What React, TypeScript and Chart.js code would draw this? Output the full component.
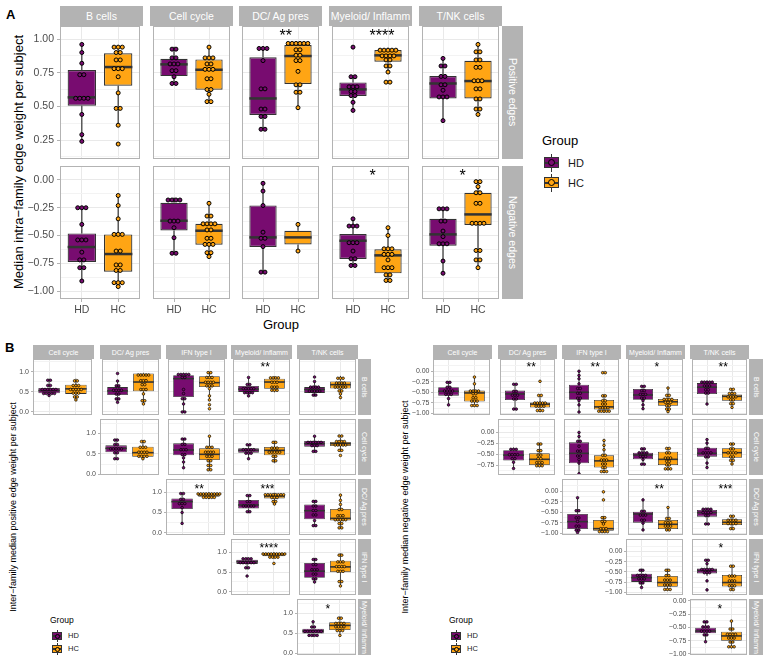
import React, { useEffect, useRef } from 'react';
import { Chart, registerables } from 'chart.js';
Chart.register(...registerables);

const FONT = '"Liberation Sans", Arial, Helvetica, sans-serif';
const HD_COLOR = '#780c70';
const HC_COLOR = '#ffa514';
const LINE = '#333333';
const STRIP = '#b3b3b3';
const TICK_TXT = '#4d4d4d';
const MINUS = '\u2212';

// ---------------- Section A: intra-family ----------------
const familiesA = ['B cells', 'Cell cycle', 'DC/ Ag pres', 'Myeloid/ Inflamm', 'T/NK cells'];
const edgeRowsA = ['Positive edges', 'Negative edges'];
const groupLabels = ['HD', 'HC'];
const ticksA = [[0.25, 0.5, 0.75, 1.0], [-1, -0.75, -0.5, -0.25, 0]];
const yRangeA = [[0.109, 1.097], [-1.072, 0.126]];
const starsA = [['', '', '**', '****', ''], ['', '', '', '*', '*']];
const starYA = [1.052, 0.075];

// stats = [lower whisker, q1, median, q3, upper whisker]
const posHDStats = [
  [0.24, 0.505, 0.567, 0.77, 0.96],
  [0.67, 0.725, 0.812, 0.854, 0.943],
  [0.332, 0.436, 0.559, 0.864, 0.943],
  [0.473, 0.577, 0.626, 0.678, 0.72],
  [0.394, 0.559, 0.67, 0.725, 0.856],
];
const posHCStats = [
  [0.36, 0.653, 0.792, 0.894, 0.95],
  [0.535, 0.624, 0.772, 0.849, 0.943],
  [0.49, 0.666, 0.874, 0.955, 0.98],
  [0.755, 0.832, 0.879, 0.918, 0.935],
  [0.436, 0.559, 0.688, 0.839, 0.96],
];
const posHDPoints = [
  [0.96, 0.90, 0.82, 0.75, 0.72, 0.57, 0.57, 0.55, 0.55, 0.44, 0.29, 0.24],
  [0.94, 0.91, 0.87, 0.85, 0.83, 0.81, 0.80, 0.78, 0.75, 0.72, 0.67, 0.67],
  [0.94, 0.94, 0.92, 0.84, 0.63, 0.63, 0.49, 0.47, 0.43, 0.42, 0.33, 0.33],
  [0.94, 0.72, 0.72, 0.66, 0.66, 0.63, 0.62, 0.60, 0.58, 0.58, 0.53, 0.47],
  [0.856, 0.81, 0.79, 0.725, 0.72, 0.66, 0.66, 0.62, 0.58, 0.57, 0.56, 0.394],
];
const posHCPoints = [
  [0.95, 0.94, 0.93, 0.91, 0.89, 0.86, 0.83, 0.79, 0.79, 0.77, 0.72, 0.60, 0.485, 0.485, 0.36, 0.22],
  [0.94, 0.87, 0.87, 0.85, 0.83, 0.80, 0.78, 0.77, 0.77, 0.72, 0.69, 0.63, 0.62, 0.59, 0.535, 0.535],
  [0.98, 0.98, 0.98, 0.955, 0.955, 0.955, 0.93, 0.91, 0.89, 0.87, 0.85, 0.83, 0.76, 0.66, 0.66, 0.62, 0.59, 0.49],
  [0.935, 0.935, 0.92, 0.91, 0.90, 0.89, 0.88, 0.87, 0.86, 0.85, 0.84, 0.81, 0.79, 0.755, 0.68, 0.68],
  [0.96, 0.91, 0.90, 0.85, 0.84, 0.80, 0.78, 0.69, 0.69, 0.69, 0.63, 0.63, 0.56, 0.55, 0.49, 0.47, 0.44],
];
const negHDStats = [
  [-0.91, -0.739, -0.604, -0.481, -0.25],
  [-0.661, -0.454, -0.367, -0.205, -0.157],
  [-0.832, -0.604, -0.517, -0.229, -0.025],
  [-0.769, -0.712, -0.547, -0.487, -0.349],
  [-0.841, -0.592, -0.49, -0.349, -0.247],
];
const negHCStats = [
  [-0.961, -0.826, -0.667, -0.49, -0.139],
  [-0.69, -0.583, -0.457, -0.394, -0.21],
  [-0.637, -0.58, -0.517, -0.457, -0.394],
  [-0.922, -0.841, -0.679, -0.625, -0.427],
  [-0.793, -0.406, -0.31, -0.115, 0.0],
];
const negHDPoints = [
  [-0.25, -0.25, -0.25, -0.40, -0.52, -0.52, -0.56, -0.65, -0.72, -0.72, -0.79, -0.79, -0.91],
  [-0.16, -0.19, -0.20, -0.20, -0.37, -0.37, -0.37, -0.43, -0.52, -0.66, -0.66],
  [-0.03, -0.10, -0.23, -0.47, -0.52, -0.53, -0.60, -0.83, -0.83],
  [-0.35, -0.40, -0.40, -0.43, -0.55, -0.55, -0.58, -0.64, -0.71, -0.71, -0.77, -0.77],
  [-0.25, -0.26, -0.27, -0.36, -0.38, -0.46, -0.51, -0.56, -0.58, -0.59, -0.73, -0.84],
];
const negHCPoints = [
  [-0.14, -0.23, -0.35, -0.49, -0.49, -0.49, -0.62, -0.66, -0.75, -0.78, -0.80, -0.83, -0.91, -0.91, -0.94, -0.96],
  [-0.21, -0.31, -0.34, -0.38, -0.39, -0.40, -0.41, -0.44, -0.46, -0.51, -0.54, -0.57, -0.59, -0.59, -0.64, -0.67, -0.69],
  [-0.40, -0.64],
  [-0.43, -0.50, -0.60, -0.63, -0.64, -0.65, -0.67, -0.69, -0.72, -0.77, -0.79, -0.81, -0.84, -0.87, -0.89, -0.92],
  [0.0, -0.03, -0.06, -0.11, -0.12, -0.20, -0.22, -0.38, -0.38, -0.38, -0.40, -0.62, -0.65, -0.70, -0.74, -0.79],
];

// ---------------- Section B: inter-family ----------------
const colFamiliesB = ['Cell cycle', 'DC/ Ag pres', 'IFN type I', 'Myeloid/ Inflamm', 'T/NK cells'];
const rowFamiliesB = ['B cells', 'Cell cycle', 'DC/ Ag pres', 'IFN type I', 'Myeloid/ Inflamm'];
const ticksPosB = [0, 0.5, 1.0];
const ticksNegB = [-1, -0.75, -0.5, -0.25, 0];
const yRangePosB = [[-0.076, 1.32], [-0.017, 1.35], [-0.057, 1.33], [-0.08, 1.34], [-0.05, 1.35]];
const yRangeNegB = [[-1.04, 0.29], [-0.968, 0.293], [-1.04, 0.284], [-1.065, 0.305], [-1.02, 0.037]];
const starsPosB = [['', '', '', '**', ''], ['', '', '', ''], ['**', '***', ''], ['****', ''], ['*']];
const starYPosB = [1.19, 1.16, 1.16, 1.175, 1.16];
const starsNegB = [['', '**', '**', '*', '**'], ['', '', '', ''], ['', '**', '***'], ['', '*'], ['*']];
const starYNegB = [0.162, 0.15, 0.125, 0.144, -0.105];

const interPosHDStats = [
  [[0.41, 0.466, 0.534, 0.60, 0.83], [0.24, 0.42, 0.525, 0.62, 0.79], [0.0, 0.373, 0.83, 0.915, 0.975], [0.40, 0.50, 0.57, 0.65, 0.86], [0.38, 0.475, 0.56, 0.62, 0.76]],
  [[0.35, 0.537, 0.634, 0.707, 0.88], [0.16, 0.463, 0.593, 0.756, 0.89], [0.38, 0.528, 0.585, 0.634, 0.74], [0.52, 0.675, 0.748, 0.813, 0.93]],
  [[0.23, 0.587, 0.77, 0.85, 0.99], [0.48, 0.60, 0.686, 0.81, 0.94], [0.15, 0.33, 0.545, 0.70, 0.81]],
  [[0.567, 0.708, 0.767, 0.817, 0.875], [0.217, 0.358, 0.525, 0.733, 0.86]],
  [[0.40, 0.49, 0.55, 0.607, 0.78]],
];
const interPosHCStats = [
  [[0.28, 0.45, 0.576, 0.678, 0.83], [0.18, 0.517, 0.746, 0.96, 0.975], [0.30, 0.62, 0.73, 0.89, 1.0], [0.49, 0.576, 0.746, 0.83, 0.89], [0.32, 0.585, 0.68, 0.76, 0.90]],
  [[0.37, 0.43, 0.528, 0.675, 0.84], [0.10, 0.35, 0.488, 0.634, 0.93], [0.27, 0.463, 0.585, 0.667, 0.82], [0.55, 0.69, 0.748, 0.789, 0.90]],
  [[0.83, 0.89, 0.94, 0.975, 1.0], [0.71, 0.85, 0.91, 0.95, 0.99], [0.11, 0.30, 0.355, 0.587, 0.93]],
  [[0.83, 0.90, 0.94, 0.983, 1.0], [0.15, 0.50, 0.633, 0.79, 0.98]],
  [[0.43, 0.574, 0.69, 0.77, 0.92]],
];
const interPosHDPoints = [
  [
    [0.83, 0.75, 0.70, 0.62, 0.60, 0.57, 0.55, 0.54, 0.53, 0.52, 0.50, 0.48, 0.46, 0.44, 0.42, 0.41],
    [0.96, 0.77, 0.68, 0.62, 0.58, 0.55, 0.52, 0.50, 0.47, 0.42, 0.35, 0.30, 0.24],
    [0.97, 0.95, 0.93, 0.92, 0.90, 0.88, 0.84, 0.56, 0.46, 0.36, 0.30, 0.20, 0.0, 0.0],
    [0.86, 0.72, 0.65, 0.62, 0.58, 0.56, 0.55, 0.54, 0.52, 0.50, 0.47, 0.44, 0.40],
    [0.87, 0.76, 0.66, 0.62, 0.60, 0.58, 0.56, 0.54, 0.52, 0.50, 0.48, 0.44, 0.40],
  ],
  [
    [0.85, 0.82, 0.75, 0.70, 0.66, 0.64, 0.62, 0.60, 0.58, 0.55, 0.50, 0.40, 0.36],
    [0.89, 0.83, 0.76, 0.70, 0.64, 0.60, 0.56, 0.50, 0.46, 0.40, 0.30, 0.16],
    [0.74, 0.70, 0.64, 0.62, 0.60, 0.58, 0.56, 0.55, 0.52, 0.48, 0.38],
    [0.93, 0.82, 0.80, 0.78, 0.76, 0.75, 0.74, 0.72, 0.70, 0.68, 0.60, 0.52],
  ],
  [
    [0.99, 0.95, 0.85, 0.80, 0.76, 0.72, 0.68, 0.62, 0.50, 0.23],
    [0.94, 0.90, 0.80, 0.74, 0.70, 0.68, 0.66, 0.64, 0.62, 0.56, 0.48],
    [0.79, 0.76, 0.70, 0.62, 0.58, 0.52, 0.48, 0.40, 0.30, 0.20, 0.15],
  ],
  [
    [0.875, 0.85, 0.83, 0.80, 0.78, 0.76, 0.75, 0.74, 0.72, 0.70, 0.65, 0.57, 0.40],
    [0.86, 0.78, 0.72, 0.66, 0.60, 0.55, 0.52, 0.48, 0.42, 0.36, 0.30, 0.25],
  ],
  [
    [0.78, 0.68, 0.62, 0.58, 0.56, 0.55, 0.54, 0.53, 0.52, 0.50, 0.48, 0.45, 0.42, 0.40],
  ],
];
const interPosHCPoints = [
  [
    [0.80, 0.75, 0.70, 0.66, 0.62, 0.60, 0.58, 0.56, 0.55, 0.52, 0.50, 0.47, 0.44, 0.40, 0.35, 0.30],
    [0.96, 0.95, 0.94, 0.92, 0.88, 0.82, 0.76, 0.74, 0.70, 0.66, 0.60, 0.55, 0.52, 0.45, 0.30, 0.26, 0.20],
    [1.0, 0.96, 0.90, 0.86, 0.82, 0.78, 0.75, 0.72, 0.70, 0.68, 0.65, 0.62, 0.58, 0.40, 0.30, 0.18, 0.08],
    [0.88, 0.86, 0.84, 0.82, 0.78, 0.74, 0.70, 0.66, 0.62, 0.58, 0.56, 0.54, 0.52],
    [0.88, 0.84, 0.80, 0.76, 0.72, 0.70, 0.68, 0.66, 0.64, 0.62, 0.60, 0.58, 0.55, 0.50, 0.45, 0.36],
  ],
  [
    [0.84, 0.76, 0.70, 0.66, 0.62, 0.58, 0.55, 0.52, 0.50, 0.48, 0.45, 0.42, 0.40, 0.38],
    [0.93, 0.70, 0.64, 0.62, 0.58, 0.55, 0.52, 0.50, 0.48, 0.44, 0.40, 0.36, 0.30, 0.25, 0.18, 0.12, 0.10],
    [0.82, 0.74, 0.68, 0.64, 0.60, 0.58, 0.56, 0.54, 0.52, 0.50, 0.46, 0.42, 0.36, 0.30],
    [0.97, 0.90, 0.84, 0.80, 0.78, 0.76, 0.75, 0.74, 0.72, 0.70, 0.68, 0.62, 0.55, 0.46],
  ],
  [
    [1.0, 0.98, 0.97, 0.96, 0.95, 0.94, 0.94, 0.93, 0.92, 0.91, 0.90, 0.88, 0.86, 0.84],
    [0.98, 0.96, 0.95, 0.94, 0.93, 0.92, 0.91, 0.90, 0.89, 0.88, 0.85, 0.80, 0.74, 0.71],
    [0.93, 0.80, 0.70, 0.60, 0.55, 0.46, 0.42, 0.38, 0.36, 0.35, 0.33, 0.30, 0.28, 0.25, 0.20, 0.14, 0.10],
  ],
  [
    [1.0, 0.99, 0.98, 0.97, 0.96, 0.95, 0.94, 0.93, 0.92, 0.91, 0.90, 0.88, 0.85, 0.72],
    [0.96, 0.90, 0.80, 0.75, 0.72, 0.68, 0.64, 0.62, 0.60, 0.56, 0.52, 0.48, 0.30, 0.22, 0.15],
  ],
  [
    [0.90, 0.84, 0.78, 0.74, 0.72, 0.70, 0.69, 0.68, 0.66, 0.62, 0.60, 0.57, 0.52, 0.44],
  ],
];

const interNegHDStats = [
  [[-0.80, -0.58, -0.476, -0.38, -0.234], [-0.92, -0.685, -0.54, -0.46, -0.30], [-0.97, -0.677, -0.50, -0.32, 0.0], [-0.887, -0.677, -0.565, -0.42, -0.34], [-0.78, -0.54, -0.38, -0.282, -0.24]],
  [[-0.82, -0.64, -0.52, -0.41, -0.35], [-0.94, -0.705, -0.48, -0.233, 0.0], [-0.73, -0.615, -0.518, -0.465, -0.35], [-0.80, -0.555, -0.48, -0.353, -0.165]],
  [[-0.984, -0.898, -0.724, -0.543, -0.157], [-0.92, -0.748, -0.543, -0.488, -0.21], [-0.803, -0.606, -0.512, -0.449, -0.394]],
  [[-0.88, -0.744, -0.64, -0.544, -0.416], [-0.60, -0.536, -0.464, -0.416, -0.176]],
  [[-0.77, -0.61, -0.568, -0.506, -0.37]],
];
const interNegHCStats = [
  [[-0.847, -0.718, -0.516, -0.46, -0.137], [-0.968, -0.863, -0.782, -0.742, -0.597], [-0.984, -0.91, -0.847, -0.685, -0.54], [-0.96, -0.823, -0.726, -0.66, -0.395], [-0.863, -0.70, -0.597, -0.556, -0.40]],
  [[-0.79, -0.743, -0.615, -0.48, -0.24], [-0.915, -0.80, -0.65, -0.525, -0.19], [-0.86, -0.743, -0.615, -0.443, -0.34], [-0.73, -0.578, -0.465, -0.367, -0.24]],
  [[-0.984, -0.937, -0.89, -0.685, -0.59], [-0.937, -0.898, -0.787, -0.685, -0.386], [-0.92, -0.803, -0.74, -0.67, -0.567]],
  [[-0.96, -0.864, -0.76, -0.60, -0.416], [-0.945, -0.856, -0.76, -0.577, -0.32]],
  [[-0.895, -0.753, -0.66, -0.58, -0.38]],
];
const interNegHDPoints = [
  [
    [-0.23, -0.30, -0.36, -0.40, -0.44, -0.46, -0.48, -0.50, -0.52, -0.55, -0.58, -0.65, -0.80],
    [-0.30, -0.32, -0.46, -0.50, -0.54, -0.56, -0.60, -0.64, -0.68, -0.88, -0.92],
    [0.0, -0.10, -0.18, -0.30, -0.38, -0.44, -0.50, -0.55, -0.62, -0.66, -0.70, -0.80, -0.97],
    [-0.34, -0.38, -0.44, -0.48, -0.52, -0.56, -0.58, -0.62, -0.66, -0.70, -0.80, -0.89],
    [-0.24, -0.25, -0.26, -0.27, -0.28, -0.32, -0.36, -0.38, -0.42, -0.46, -0.50, -0.54, -0.78],
  ],
  [
    [-0.36, -0.38, -0.42, -0.48, -0.50, -0.52, -0.54, -0.58, -0.62, -0.68, -0.82],
    [-0.01, -0.10, -0.18, -0.24, -0.32, -0.40, -0.46, -0.52, -0.56, -0.62, -0.70, -0.94],
    [-0.36, -0.40, -0.44, -0.46, -0.48, -0.50, -0.52, -0.54, -0.58, -0.62, -0.72, -0.73],
    [-0.17, -0.25, -0.34, -0.40, -0.44, -0.46, -0.48, -0.50, -0.54, -0.58, -0.70, -0.80],
  ],
  [
    [-0.16, -0.45, -0.48, -0.62, -0.65, -0.72, -0.80, -0.86, -0.90, -0.95, -0.98],
    [-0.21, -0.46, -0.50, -0.54, -0.56, -0.60, -0.66, -0.72, -0.76, -0.92],
    [-0.40, -0.42, -0.44, -0.46, -0.48, -0.50, -0.52, -0.54, -0.56, -0.60, -0.76, -0.80],
  ],
  [
    [-0.42, -0.50, -0.55, -0.58, -0.60, -0.62, -0.64, -0.66, -0.70, -0.74, -0.80, -0.88],
    [-0.18, -0.25, -0.30, -0.40, -0.42, -0.44, -0.46, -0.48, -0.50, -0.52, -0.54, -0.72, -0.94],
  ],
  [
    [-0.37, -0.42, -0.46, -0.50, -0.52, -0.54, -0.56, -0.58, -0.60, -0.62, -0.66, -0.77],
  ],
];
const interNegHCPoints = [
  [
    [-0.14, -0.30, -0.44, -0.46, -0.48, -0.50, -0.52, -0.55, -0.60, -0.66, -0.68, -0.70, -0.74, -0.78, -0.82, -0.85],
    [-0.24, -0.55, -0.60, -0.72, -0.75, -0.77, -0.78, -0.79, -0.80, -0.82, -0.84, -0.86, -0.90, -0.94, -0.97],
    [0.0, -0.07, -0.55, -0.62, -0.68, -0.72, -0.76, -0.80, -0.84, -0.86, -0.88, -0.90, -0.92, -0.94, -0.96, -0.98, -0.98],
    [-0.40, -0.55, -0.60, -0.64, -0.66, -0.68, -0.70, -0.72, -0.74, -0.76, -0.80, -0.84, -0.88, -0.92, -0.96],
    [-0.40, -0.46, -0.50, -0.54, -0.56, -0.58, -0.60, -0.62, -0.64, -0.66, -0.70, -0.74, -0.80, -0.86],
  ],
  [
    [-0.24, -0.30, -0.40, -0.44, -0.50, -0.54, -0.58, -0.62, -0.66, -0.70, -0.72, -0.74, -0.76, -0.78],
    [-0.19, -0.30, -0.40, -0.50, -0.55, -0.60, -0.64, -0.66, -0.70, -0.74, -0.78, -0.82, -0.86, -0.90, -0.92],
    [-0.34, -0.40, -0.44, -0.50, -0.55, -0.60, -0.62, -0.64, -0.68, -0.72, -0.76, -0.80, -0.84, -0.86],
    [-0.24, -0.30, -0.36, -0.40, -0.44, -0.46, -0.48, -0.50, -0.54, -0.58, -0.62, -0.66, -0.72],
  ],
  [
    [-0.02, -0.21, -0.60, -0.66, -0.70, -0.74, -0.78, -0.86, -0.90, -0.92, -0.94, -0.96, -0.98, -0.98],
    [-0.39, -0.62, -0.68, -0.72, -0.76, -0.78, -0.80, -0.82, -0.86, -0.90, -0.94],
    [-0.57, -0.62, -0.66, -0.68, -0.70, -0.72, -0.74, -0.76, -0.78, -0.80, -0.86, -0.92],
  ],
  [
    [-0.42, -0.50, -0.56, -0.62, -0.66, -0.70, -0.74, -0.78, -0.82, -0.86, -0.90, -0.94, -0.96],
    [-0.32, -0.40, -0.56, -0.60, -0.64, -0.68, -0.72, -0.76, -0.80, -0.84, -0.88, -0.92, -0.945],
  ],
  [
    [-0.38, -0.50, -0.56, -0.60, -0.62, -0.64, -0.66, -0.68, -0.70, -0.72, -0.75, -0.80, -0.84, -0.87, -0.89],
  ],
];

// ---------------- helpers ----------------
const fmt = (v: number, d: number) => (v < 0 ? MINUS : '') + Math.abs(v).toFixed(d);

function dotplot(vals: number[], cat: number, pxX: number, pxY: number, d: number) {
  const s = [...vals].sort((a, b) => b - a);
  const bw = d / pxY;
  const out: { x: number; y: number }[] = [];
  let i = 0;
  while (i < s.length) {
    let j = i;
    while (j + 1 < s.length && s[i] - s[j + 1] < bw * 0.999) j++;
    const n = j - i + 1;
    const yc = (s[i] + s[j]) / 2;
    for (let k = 0; k < n; k++) {
      out.push({ x: cat + ((k - (n - 1) / 2) * d * 0.85) / pxX, y: yc });
    }
    i = j + 1;
  }
  return out;
}

function minorsFor(majors: number[], lo: number, hi: number) {
  const step = majors[1] - majors[0];
  const out: number[] = [];
  for (let v = majors[0] - step / 2; v <= majors[majors.length - 1] + step / 2 + 1e-9; v += step) {
    if (v > lo && v < hi) out.push(Math.round(v * 10000) / 10000);
  }
  return out;
}

interface PanelProps {
  x: number; y: number; w: number; h: number;
  lm: number; showY: boolean; showX: boolean;
  yMin: number; yMax: number; majors: number[]; dec: number;
  tickSize: number; tickLen: number; tickPad: number;
  hdStats: number[]; hcStats: number[]; hdPts: number[]; hcPts: number[];
  star: string; starY: number; starSize: number;
  dotR: number; dotBorder: number; medianW: number; whiskW: number; boxBorder: number;
  barPct: number;
}

const TM = 10;

function Panel(p: PanelProps) {
  const ref = useRef<HTMLCanvasElement>(null);
  const BM = p.showX ? 20 : 10;
  const cw = p.w + p.lm;
  const ch = TM + p.h + BM;
  useEffect(() => {
    const canvas = ref.current as HTMLCanvasElement;
    const pxX = p.w / 2.2;
    const pxY = p.h / (p.yMax - p.yMin);
    const d = p.dotR * 2 + p.dotBorder;
    const hd = dotplot(p.hdPts, 1, pxX, pxY, d);
    const hc = dotplot(p.hcPts, 2, pxX, pxY, d);
    const pts = [...hd, ...hc];
    const colors = [...hd.map(() => HD_COLOR), ...hc.map(() => HC_COLOR)];
    const majors = p.majors.filter((v) => v >= p.yMin - 1e-9 && v <= p.yMax + 1e-9);
    const minors = minorsFor(p.majors, p.yMin, p.yMax);
    const isMajor = (v: number) => majors.some((m) => Math.abs(m - v) < 1e-9);
    const stats = [p.hdStats, p.hcStats];

    const boxPlugin = {
      id: 'boxdraw',
      beforeDatasetDraw(chart: any, args: any) {
        if (args.index !== 1) return;
        const meta = chart.getDatasetMeta(1);
        const ys = chart.scales.y;
        const ctx = chart.ctx;
        ctx.save();
        ctx.strokeStyle = LINE;
        ctx.lineWidth = p.whiskW;
        meta.data.forEach((el: any, i: number) => {
          const s = stats[i];
          ctx.beginPath();
          ctx.moveTo(el.x, ys.getPixelForValue(s[0]));
          ctx.lineTo(el.x, ys.getPixelForValue(s[1]));
          ctx.moveTo(el.x, ys.getPixelForValue(s[3]));
          ctx.lineTo(el.x, ys.getPixelForValue(s[4]));
          ctx.stroke();
        });
        ctx.restore();
      },
      afterDatasetDraw(chart: any, args: any) {
        if (args.index !== 1) return;
        const meta = chart.getDatasetMeta(1);
        const ys = chart.scales.y;
        const ctx = chart.ctx;
        ctx.save();
        ctx.strokeStyle = LINE;
        ctx.lineWidth = p.medianW;
        meta.data.forEach((el: any, i: number) => {
          const yy = ys.getPixelForValue(stats[i][2]);
          ctx.beginPath();
          ctx.moveTo(el.x - el.width / 2, yy);
          ctx.lineTo(el.x + el.width / 2, yy);
          ctx.stroke();
        });
        ctx.restore();
      },
      afterDraw(chart: any) {
        const ctx = chart.ctx;
        const a = chart.chartArea;
        ctx.save();
        ctx.strokeStyle = STRIP;
        ctx.lineWidth = 1;
        ctx.strokeRect(a.left + 0.5, a.top + 0.5, a.right - a.left - 1, a.bottom - a.top - 1);
        if (p.star) {
          ctx.fillStyle = '#000';
          ctx.font = `${p.starSize}px ${FONT}`;
          ctx.textAlign = 'left';
          ctx.textBaseline = 'alphabetic';
          const sx = chart.scales.x.getPixelForValue(1.5) - 1;
          const sy = chart.scales.y.getPixelForValue(p.starY) + p.starSize * 0.57;
          ctx.fillText(p.star, sx, sy);
        }
        ctx.restore();
      },
    };

    const chart = new Chart(canvas, {
      type: 'bar',
      data: {
        datasets: [
          {
            type: 'scatter',
            data: pts,
            order: 0,
            pointRadius: p.dotR,
            pointHoverRadius: p.dotR,
            pointBackgroundColor: colors,
            pointBorderColor: '#000000',
            pointBorderWidth: p.dotBorder,
          } as any,
          {
            type: 'bar',
            data: [
              { x: 1, y: [p.hdStats[1], p.hdStats[3]] },
              { x: 2, y: [p.hcStats[1], p.hcStats[3]] },
            ],
            order: 1,
            backgroundColor: [HD_COLOR, HC_COLOR],
            borderColor: LINE,
            borderWidth: p.boxBorder,
            borderSkipped: false,
            barPercentage: p.barPct,
            categoryPercentage: 1,
          } as any,
        ],
      },
      options: {
        animation: false,
        responsive: false,
        maintainAspectRatio: false,
        devicePixelRatio: 1,
        events: [],
        layout: { padding: { top: TM, bottom: p.showX ? 0 : BM, left: 0, right: 0 } },
        plugins: { legend: { display: false }, tooltip: { enabled: false } },
        scales: {
          x: {
            type: 'linear',
            position: 'bottom',
            min: 0.4,
            max: 2.6,
            offset: false,
            afterBuildTicks: (s: any) => {
              s.ticks = [{ value: 1 }, { value: 2 }];
            },
            afterFit: (s: any) => {
              s.height = p.showX ? BM : 0;
              s.paddingLeft = 0;
              s.paddingRight = 0;
            },
            ticks: {
              display: p.showX,
              autoSkip: false,
              maxRotation: 0,
              padding: 2,
              color: TICK_TXT,
              font: { family: FONT, size: p.tickSize },
              callback: (v: any) => (v === 1 ? groupLabels[0] : groupLabels[1]),
            },
            grid: {
              offset: false,
              color: '#e9e9e9',
              lineWidth: 1,
              drawTicks: p.showX,
              tickLength: 3,
              tickColor: STRIP,
            },
            border: { display: false },
          },
          y: {
            type: 'linear',
            position: 'left',
            min: p.yMin,
            max: p.yMax,
            beginAtZero: false,
            afterBuildTicks: (s: any) => {
              s.ticks = [...majors, ...minors].sort((a, b) => a - b).map((v) => ({ value: v }));
            },
            afterFit: (s: any) => {
              s.width = p.lm;
              s.paddingTop = 0;
              s.paddingBottom = 0;
            },
            ticks: {
              display: p.showY,
              autoSkip: false,
              padding: p.tickPad,
              color: TICK_TXT,
              font: { family: FONT, size: p.tickSize },
              callback: (v: any) => (isMajor(v) ? fmt(v, p.dec) : ''),
            },
            grid: {
              color: (c: any) => (c.tick && isMajor(c.tick.value) ? '#e9e9e9' : '#f3f3f3'),
              lineWidth: 1,
              drawTicks: p.showY,
              tickLength: p.tickLen,
              tickColor: (c: any) => (c.tick && isMajor(c.tick.value) ? STRIP : 'rgba(0,0,0,0)'),
            },
            border: { display: false },
          },
        },
      } as any,
      plugins: [boxPlugin as any],
    });
    return () => chart.destroy();
  }, []);
  return (
    <canvas
      ref={ref}
      width={cw}
      height={ch}
      style={{ position: 'absolute', left: p.x - p.lm, top: p.y - TM, width: cw, height: ch }}
    />
  );
}

// ---------------- HTML text helpers ----------------
function Txt(props: any) {
  const { x, y, size, color = '#000', bold = false, align = 'left', rotate = 0, children } = props;
  const tx = align === 'center' ? '-50%' : '0';
  return (
    <div
      style={{
        position: 'absolute',
        left: x,
        top: y,
        transform: `translate(${tx}, -50%)${rotate ? ` rotate(${rotate}deg)` : ''}`,
        transformOrigin: 'center center',
        fontFamily: FONT,
        fontSize: size,
        fontWeight: bold ? 700 : 400,
        color,
        whiteSpace: 'nowrap',
        lineHeight: 1,
      }}
    >
      {children}
    </div>
  );
}

function Strip(props: any) {
  const { x, y, w, h, size, vertical = false, children } = props;
  return (
    <div
      style={{
        position: 'absolute',
        left: x,
        top: y,
        width: w,
        height: h,
        background: STRIP,
        color: '#ffffff',
        fontFamily: FONT,
        fontSize: size,
        display: 'flex',
        alignItems: 'center',
        justifyContent: 'center',
        whiteSpace: 'nowrap',
        overflow: 'hidden',
        writingMode: vertical ? 'vertical-rl' : 'horizontal-tb',
        lineHeight: 1,
      }}
    >
      {children}
    </div>
  );
}

function Key(props: any) {
  const { x, cy, w, h, color, whisk, circ, med } = props;
  return (
    <>
      <div style={{ position: 'absolute', left: x + w / 2 - 0.5, top: cy - whisk / 2, width: 1, height: whisk, background: LINE }} />
      <div style={{ position: 'absolute', left: x, top: cy - h / 2, width: w, height: h, background: color, border: `1px solid ${LINE}`, boxSizing: 'border-box' }} />
      <div style={{ position: 'absolute', left: x, top: cy - med / 2, width: w, height: med, background: LINE }} />
      <div style={{ position: 'absolute', left: x + w / 2 - circ / 2, top: cy - circ / 2, width: circ, height: circ, borderRadius: '50%', background: color, border: '1px solid #000', boxSizing: 'border-box' }} />
    </>
  );
}

// ---------------- layout ----------------
const colsA = [60, 150, 239, 329, 419];
const wA = 83;
const rowsA = [26, 166];
const hA = 133;
const colsBL = [33, 100, 166, 231, 297];
const wBL = 61;
const colsBR = [433, 498, 562, 626, 690];
const wBR = 59;
const rowsB = [359, 419, 479, 539, 599];
const hB = 56;

export default function App() {
  const panels: any[] = [];
  // Section A
  for (let r = 0; r < 2; r++) {
    for (let c = 0; c < 5; c++) {
      panels.push(
        <Panel
          key={`a-${r}-${c}`}
          x={colsA[c]} y={rowsA[r]} w={wA} h={hA}
          lm={c === 0 ? 40 : 0} showY={c === 0} showX={r === 1}
          yMin={yRangeA[r][0]} yMax={yRangeA[r][1]} majors={ticksA[r]} dec={2}
          tickSize={10.5} tickLen={3} tickPad={3}
          hdStats={r === 0 ? posHDStats[c] : negHDStats[c]}
          hcStats={r === 0 ? posHCStats[c] : negHCStats[c]}
          hdPts={r === 0 ? posHDPoints[c] : negHDPoints[c]}
          hcPts={r === 0 ? posHCPoints[c] : negHCPoints[c]}
          star={starsA[r][c]} starY={starYA[r]} starSize={16}
          dotR={2} dotBorder={1} medianW={2.5} whiskW={1.2} boxBorder={1.2} barPct={0.78}
        />
      );
    }
  }
  // Section B
  for (let r = 0; r < 5; r++) {
    for (let c = r; c < 5; c++) {
      const k = c - r;
      panels.push(
        <Panel
          key={`bl-${r}-${c}`}
          x={colsBL[c]} y={rowsB[r]} w={wBL} h={hB}
          lm={c === r ? 28 : 0} showY={c === r} showX={false}
          yMin={yRangePosB[r][0]} yMax={yRangePosB[r][1]} majors={ticksPosB} dec={1}
          tickSize={7} tickLen={2} tickPad={2}
          hdStats={interPosHDStats[r][k]} hcStats={interPosHCStats[r][k]}
          hdPts={interPosHDPoints[r][k]} hcPts={interPosHCPoints[r][k]}
          star={starsPosB[r][k]} starY={starYPosB[r]} starSize={12}
          dotR={1.3} dotBorder={0.7} medianW={1.6} whiskW={0.9} boxBorder={0.8} barPct={0.8}
        />
      );
      panels.push(
        <Panel
          key={`br-${r}-${c}`}
          x={colsBR[c]} y={rowsB[r]} w={wBR} h={hB}
          lm={c === r ? 32 : 0} showY={c === r} showX={false}
          yMin={yRangeNegB[r][0]} yMax={yRangeNegB[r][1]} majors={ticksNegB} dec={2}
          tickSize={7} tickLen={2} tickPad={1.5}
          hdStats={interNegHDStats[r][k]} hcStats={interNegHCStats[r][k]}
          hdPts={interNegHDPoints[r][k]} hcPts={interNegHCPoints[r][k]}
          star={starsNegB[r][k]} starY={starYNegB[r]} starSize={12}
          dotR={1.3} dotBorder={0.7} medianW={1.6} whiskW={0.9} boxBorder={0.8} barPct={0.8}
        />
      );
    }
  }

  return (
    <div style={{ position: 'absolute', left: 0, top: 0, width: 769, height: 663, background: '#fff', overflow: 'hidden' }}>
      {/* Section A */}
      <Txt x={6} y={14} size={13} bold>A</Txt>
      {familiesA.map((f, c) => (
        <Strip key={`sa-${c}`} x={colsA[c]} y={6} w={wA} h={20} size={10.5}>{f}</Strip>
      ))}
      {edgeRowsA.map((f, r) => (
        <Strip key={`ra-${r}`} x={502} y={rowsA[r]} w={21} h={hA} size={10.5} vertical>{f}</Strip>
      ))}
      <Txt x={18} y={162} size={13} align="center" rotate={-90}>Median intra{MINUS}family edge weight per subject</Txt>
      <Txt x={281} y={324} size={13} align="center">Group</Txt>
      <Txt x={542} y={140} size={13}>Group</Txt>
      <Key x={544} cy={162.5} w={15} h={11} whisk={18} circ={7} med={2} color={HD_COLOR} />
      <Key x={544} cy={182.5} w={15} h={11} whisk={18} circ={7} med={2} color={HC_COLOR} />
      <Txt x={568} y={162.5} size={11} color="#1a1a1a">{groupLabels[0]}</Txt>
      <Txt x={568} y={182.5} size={11} color="#1a1a1a">{groupLabels[1]}</Txt>

      {/* Section B */}
      <Txt x={5} y={347} size={13} bold>B</Txt>
      {colFamiliesB.map((f, c) => (
        <Strip key={`sbl-${c}`} x={colsBL[c]} y={345} w={wBL} h={14} size={7}>{f}</Strip>
      ))}
      {colFamiliesB.map((f, c) => (
        <Strip key={`sbr-${c}`} x={colsBR[c]} y={345} w={wBR} h={14} size={7}>{f}</Strip>
      ))}
      {rowFamiliesB.map((f, r) => (
        <Strip key={`rbl-${r}`} x={358} y={rowsB[r]} w={13} h={hB} size={7} vertical>{f}</Strip>
      ))}
      {rowFamiliesB.map((f, r) => (
        <Strip key={`rbr-${r}`} x={749} y={rowsB[r]} w={14} h={hB} size={7} vertical>{f}</Strip>
      ))}
      <Txt x={13} y={507} size={9} align="center" rotate={-90}>Inter{MINUS}family median positive edge weight per subject</Txt>
      <Txt x={405} y={507} size={9} align="center" rotate={-90}>Inter{MINUS}family median negative edge weight per subject</Txt>

      <Txt x={50} y={620} size={8.5}>Group</Txt>
      <Key x={52} cy={636} w={10} h={8} whisk={12} circ={5} med={1.5} color={HD_COLOR} />
      <Key x={52} cy={649} w={10} h={8} whisk={12} circ={5} med={1.5} color={HC_COLOR} />
      <Txt x={68} y={636} size={7.5} color="#1a1a1a">{groupLabels[0]}</Txt>
      <Txt x={68} y={649} size={7.5} color="#1a1a1a">{groupLabels[1]}</Txt>

      <Txt x={449} y={620} size={8.5}>Group</Txt>
      <Key x={451} cy={636} w={10} h={8} whisk={12} circ={5} med={1.5} color={HD_COLOR} />
      <Key x={451} cy={649} w={10} h={8} whisk={12} circ={5} med={1.5} color={HC_COLOR} />
      <Txt x={467} y={636} size={7.5} color="#1a1a1a">{groupLabels[0]}</Txt>
      <Txt x={467} y={649} size={7.5} color="#1a1a1a">{groupLabels[1]}</Txt>

      {panels}
    </div>
  );
}
